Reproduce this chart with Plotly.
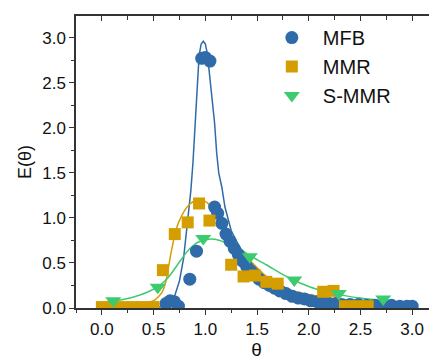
import plotly.graph_objects as go

# ---------------- data ----------------
mfb_theta = [0.62, 0.66, 0.70, 0.74, 0.85, 0.915, 0.965, 1.0, 1.045, 1.09, 1.12, 1.16,
             1.20, 1.24, 1.28, 1.32, 1.36, 1.40, 1.44, 1.48, 1.52, 1.57, 1.62, 1.67,
             1.72, 1.78, 1.84, 1.90, 1.96, 2.02, 2.08, 2.14, 2.20, 2.26, 2.32, 2.40,
             2.48, 2.56, 2.64, 2.72, 2.80, 2.88, 2.95, 3.00]
mfb_E = [0.05, 0.08, 0.07, 0.02, 0.32, 0.63, 2.77, 2.78, 2.74, 1.12, 1.05, 0.94,
         0.82, 0.74, 0.66, 0.59, 0.52, 0.46, 0.41, 0.37, 0.32, 0.28, 0.25, 0.22,
         0.19, 0.16, 0.13, 0.11, 0.10, 0.08, 0.07, 0.06, 0.05, 0.05, 0.04, 0.04,
         0.04, 0.03, 0.03, 0.03, 0.03, 0.02, 0.02, 0.02]

mmr_theta = [0.0, 0.1, 0.2, 0.3, 0.4, 0.5, 0.59, 0.705, 0.83, 0.94, 1.04, 1.25,
             1.37, 1.48, 1.59, 1.70, 2.14, 2.24, 2.35, 2.46, 2.57]
mmr_E = [0.01, 0.01, 0.01, 0.01, 0.01, 0.01, 0.42, 0.82, 0.95, 1.16, 0.97, 0.48,
         0.35, 0.36, 0.29, 0.27, 0.18, 0.19, 0.02, 0.02, 0.02]

smmr_theta = [0.11, 0.54, 0.98, 1.43, 1.86, 2.29, 2.72]
smmr_E = [0.08, 0.23, 0.77, 0.57, 0.31, 0.16, 0.10]

# fitted curves
mfb_fit_theta = [0.0, 0.5, 0.6, 0.65, 0.70, 0.75, 0.79, 0.83, 0.86, 0.88, 0.90, 0.92,
                 0.94, 0.96, 0.98, 1.00, 1.02, 1.04, 1.07, 1.09, 1.11, 1.13, 1.16,
                 1.19, 1.25, 1.33, 1.42, 1.52, 1.62, 1.78, 2.0, 2.3, 2.7, 3.0]
mfb_fit_E = [0.0, 0.0, 0.02, 0.05, 0.12, 0.30, 0.55, 0.95, 1.30, 1.60, 2.05, 2.50,
             2.80, 2.93, 2.96, 2.93, 2.82, 2.60, 2.30, 2.05, 1.72, 1.50, 1.34,
             1.12, 0.86, 0.68, 0.53, 0.40, 0.30, 0.20, 0.12, 0.07, 0.04, 0.02]

mmr_fit_theta = [0.0, 0.3, 0.5, 0.58, 0.62, 0.67, 0.72, 0.77, 0.83, 0.90, 0.95, 1.00,
                 1.07, 1.14, 1.20, 1.27, 1.35, 1.43, 1.59, 1.72, 1.85, 2.0, 2.23,
                 2.5, 2.72]
mmr_fit_E = [0.03, 0.04, 0.08, 0.17, 0.30, 0.62, 0.88, 1.02, 1.13, 1.19, 1.20, 1.18,
             1.12, 1.04, 0.90, 0.74, 0.62, 0.53, 0.35, 0.26, 0.19, 0.15, 0.10,
             0.07, 0.05]

smmr_fit_theta = [0.0, 0.11, 0.3, 0.45, 0.56, 0.65, 0.75, 0.82, 0.88, 0.95, 1.05,
                  1.14, 1.23, 1.33, 1.43, 1.59, 1.75, 1.91, 2.1, 2.33, 2.5, 2.72]
smmr_fit_E = [0.05, 0.075, 0.12, 0.18, 0.25, 0.35, 0.51, 0.62, 0.69, 0.74, 0.765,
              0.75, 0.71, 0.66, 0.58, 0.48, 0.37, 0.28, 0.20, 0.14, 0.11, 0.08]

x_ticks = [0.0, 0.5, 1.0, 1.5, 2.0, 2.5, 3.0]
y_ticks = [0.0, 0.5, 1.0, 1.5, 2.0, 2.5, 3.0]

# ---------------- style ----------------
BLUE = "#2F6BA8"
ORANGE = "#D49E00"
GREEN = "#3CCB6E"
AXIS = "#333333"
FONT = "Liberation Sans, Arial, sans-serif"

fig = go.Figure()

fig.add_trace(go.Scatter(x=mfb_fit_theta, y=mfb_fit_E, mode="lines",
                         line=dict(color=BLUE, width=1.5), showlegend=False))
fig.add_trace(go.Scatter(x=mmr_fit_theta, y=mmr_fit_E, mode="lines",
                         line=dict(color=ORANGE, width=1.5, shape="spline", smoothing=0.6),
                         showlegend=False))
fig.add_trace(go.Scatter(x=smmr_fit_theta, y=smmr_fit_E, mode="lines",
                         line=dict(color=GREEN, width=1.5, shape="spline", smoothing=0.6),
                         showlegend=False))

fig.add_trace(go.Scatter(x=mfb_theta, y=mfb_E, mode="markers", name="MFB",
                         marker=dict(symbol="circle", size=13, color=BLUE)))
fig.add_trace(go.Scatter(x=mmr_theta, y=mmr_E, mode="markers", name="MMR",
                         marker=dict(symbol="square", size=12, color=ORANGE)))
fig.add_trace(go.Scatter(x=smmr_theta, y=smmr_E, mode="markers", name="S-MMR",
                         marker=dict(symbol="triangle-down", size=14, color=GREEN)))

# dummy trace for the mirrored top / right axes
fig.add_trace(go.Scatter(x=[None], y=[None], xaxis="x2", yaxis="y2",
                         showlegend=False, hoverinfo="skip"))

xr = [-0.25, 3.24]
yr = [0.0, 3.24]

# the page body has an 8px margin, so the figure is sized to fit the 437x360 window
fig.update_layout(
    width=429, height=352,
    margin=dict(l=68, r=0, t=8, b=52),
    paper_bgcolor="white", plot_bgcolor="white",
    font=dict(family=FONT, size=17, color="#111111"),
    xaxis=dict(range=xr, tickvals=x_ticks, ticktext=[f"{v:.1f}" for v in x_ticks],
               automargin=False,
               showgrid=False, zeroline=False, showline=True, linecolor=AXIS,
               linewidth=1.5, ticks="outside", ticklen=5, tickwidth=1.3,
               tickcolor=AXIS, tickfont=dict(size=17),
               minor=dict(dtick=0.25, tick0=0, ticks="outside", ticklen=3,
                          tickwidth=1.2, tickcolor=AXIS, showgrid=False),
               title=dict(text="θ", font=dict(size=19), standoff=2)),
    yaxis=dict(range=yr, tickvals=y_ticks, ticktext=[f"{v:.1f}" for v in y_ticks],
               automargin=False,
               showgrid=False, zeroline=False, showline=True, linecolor=AXIS,
               linewidth=1.5, ticks="outside", ticklen=5, tickwidth=1.3,
               tickcolor=AXIS, tickfont=dict(size=17),
               minor=dict(dtick=0.25, tick0=0, ticks="outside", ticklen=3,
                          tickwidth=1.2, tickcolor=AXIS, showgrid=False),
               title=dict(text="E(θ)", font=dict(size=18), standoff=6)),
    xaxis2=dict(range=xr, overlaying="x", side="top", showgrid=False, zeroline=False,
                automargin=False,
                showline=True, linecolor=AXIS, linewidth=1.5, ticks="inside",
                ticklen=5, tickwidth=1.3, tickcolor=AXIS, tickvals=x_ticks,
                showticklabels=False,
                minor=dict(dtick=0.25, tick0=0, ticks="inside", ticklen=4,
                           tickwidth=1.2, tickcolor=AXIS, showgrid=False)),
    yaxis2=dict(range=yr, overlaying="y", side="right", showgrid=False, zeroline=False,
                automargin=False,
                showline=False, ticks="inside", ticklen=5, tickwidth=1.3,
                tickcolor=AXIS, tickvals=y_ticks, showticklabels=False,
                minor=dict(dtick=0.25, tick0=0, ticks="inside", ticklen=3,
                           tickwidth=1.2, tickcolor=AXIS, showgrid=False)),
    legend=dict(x=0.512, y=0.993, xanchor="left", yanchor="top",
                bgcolor="rgba(0,0,0,0)", font=dict(size=20, color="#111111"),
                itemwidth=52, tracegroupgap=0),
    showlegend=True,
)

fig.write_html("out.html")
